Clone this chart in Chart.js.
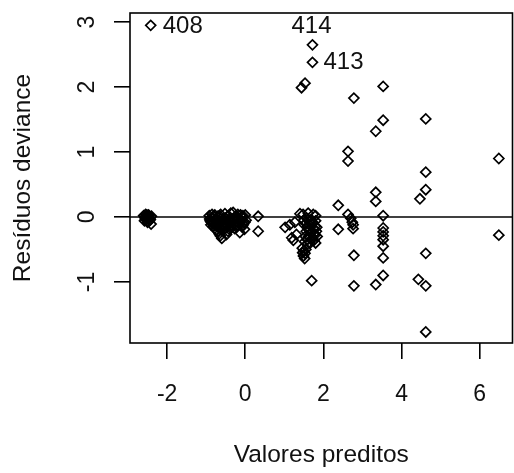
<!DOCTYPE html>
<html>
<head>
<meta charset="utf-8">
<script src="https://cdn.jsdelivr.net/npm/chart.js@4.4.1/dist/chart.umd.min.js"></script>
<style>
  html, body { margin: 0; padding: 0; background: #fff; }
  #wrap { width: 514px; height: 473px; }
</style>
</head>
<body>
<div id="wrap"><canvas id="chart" width="514" height="473"></canvas></div>
<script>
// valores preditos (x) e residuos deviance (y), lidos do grafico
// as tres primeiras observacoes sao as identificadas (408, 414, 413)
const preditos = [
  -2.42, 1.72, 1.72,
  -2.60, -2.56, -2.52, -2.49, -2.46, -2.43, -2.40, -2.58, -2.50, -2.44, -2.41,
  -2.57, -2.53, -2.48, -2.45, -2.55, -2.47,
  -0.92, -0.90, -0.88, -0.85, -0.83, -0.82, -0.80, -0.78, -0.76, -0.74,
  -0.72, -0.70, -0.68, -0.67, -0.65, -0.63, -0.61, -0.60, -0.58, -0.56,
  -0.54, -0.52, -0.50, -0.48, -0.47, -0.45, -0.43, -0.41, -0.39, -0.37,
  -0.35, -0.33, -0.31, -0.29, -0.27, -0.25, -0.23, -0.21, -0.19, -0.17,
  -0.15, -0.14, -0.12, -0.10, -0.08, -0.06, -0.04, -0.02, 0.00, 0.02,
  -0.91, -0.87, -0.84, -0.81, -0.77, -0.73, -0.69, -0.66, -0.62, -0.59,
  -0.55, -0.51, -0.46, -0.42, -0.38, -0.34, -0.30, -0.26, -0.22, -0.18,
  -0.13, -0.09, -0.05, -0.01, -0.71, -0.64, -0.57, -0.44,
  0.33, 0.33,
  1.02, 1.14, 1.27, 1.19, 1.31, 1.23, 1.40, 1.48, 1.61, 1.74, 1.80,
  1.50, 1.55, 1.60, 1.65, 1.70, 1.75, 1.80, 1.82, 1.78, 1.72, 1.68, 1.62,
  1.56, 1.52, 1.58, 1.66, 1.76, 1.80,
  1.51, 1.57, 1.63, 1.69, 1.74, 1.79, 1.84, 1.54, 1.64, 1.71, 1.77, 1.83, 1.59, 1.69,
  1.46, 1.50, 1.53, 1.49, 1.52, 1.47, 1.55,
  1.70, 1.44, 1.53,
  2.38, 2.38, 2.63, 2.63, 2.63, 2.70, 2.74, 2.76, 2.76, 2.78, 2.78, 2.78,
  3.34, 3.34, 3.34, 3.34, 3.53, 3.53, 3.53, 3.53, 3.53, 3.53, 3.53, 3.53, 3.53, 3.53,
  4.62, 4.62, 4.62, 4.47, 4.62, 4.43, 4.62, 4.62,
  6.49, 6.49
]
const residuos = [
  2.95, 2.65, 2.38,
  0.02, -0.03, 0.03, -0.01, 0.02, -0.04, 0.01, -0.06, -0.08, -0.03, -0.11,
  0.00, -0.01, 0.03, -0.06, 0.04, -0.02,
  0.02, -0.06, -0.12, 0.04, -0.02, -0.15, -0.09, 0.03, -0.05, -0.20,
  -0.11, 0.01, -0.16, -0.26, -0.07, 0.04, -0.13, -0.33, -0.21, -0.03,
  -0.10, 0.05, -0.17, -0.27, -0.06, -0.12, 0.02, -0.19, -0.08, 0.06,
  -0.14, -0.04, 0.07, -0.10, -0.18, 0.01, -0.07, -0.13, 0.04, -0.02,
  -0.11, -0.24, 0.03, -0.06, -0.15, 0.02, -0.09, -0.19, 0.03, -0.05,
  -0.03, -0.08, -0.10, 0.01, -0.13, -0.04, -0.09, 0.02, -0.18, -0.07,
  -0.14, -0.02, -0.11, -0.05, -0.15, -0.09, -0.03, -0.12, -0.16, -0.08,
  -0.05, 0.00, -0.12, -0.08, -0.22, -0.29, -0.12, -0.22,
  0.01, -0.22,
  -0.16, -0.12, -0.08, -0.32, -0.27, -0.36, 0.05, 0.04, 0.06, 0.04, 0.02,
  -0.05, -0.10, -0.15, -0.08, -0.12, -0.18, -0.06, -0.22, -0.28, -0.33, -0.25, -0.30,
  -0.22, -0.38, -0.42, -0.40, -0.36, -0.40,
  -0.12, -0.02, -0.20, -0.04, -0.09, -0.14, -0.30, -0.30, -0.12, -0.22, -0.26, -0.16, -0.35, -0.35,
  -0.48, -0.52, -0.56, -0.60, -0.64, -0.55, -0.50,
  -0.98, 1.99, 2.06,
  0.18, -0.19, 1.01, 0.86, 0.04, -0.02, -0.08, -0.12, -0.18, 1.83, -0.59, -1.06,
  1.32, 0.38, 0.24, -1.04, 2.01, 1.49, 0.02, -0.17, -0.23, -0.29, -0.35, -0.45, -0.63, -0.90,
  1.51, 0.69, 0.42, 0.28, -0.56, -0.96, -1.06, -1.77,
  0.90, -0.28
]
const rotulos = ["408", "414", "413"]
const xTicks = [-2, 0, 2, 4, 6]
const yTicks = [-1, 0, 1, 2, 3]
const xTitulo = "Valores preditos"
const yTitulo = "Resíduos deviance"

const FONT = '"Liberation Sans", Arial, sans-serif'
const INK = "#111"

const pontos = preditos.map((x, i) => ({ x: x, y: residuos[i] }))

const rPlotPlugin = {
  id: "rPlot",
  beforeDatasetsDraw(chart) {
    const { ctx, chartArea, scales } = chart
    const y0 = scales.y.getPixelForValue(0)
    ctx.save()
    ctx.strokeStyle = "#000"
    ctx.lineWidth = 1.6
    ctx.beginPath()
    ctx.moveTo(chartArea.left, y0)
    ctx.lineTo(chartArea.right, y0)
    ctx.stroke()
    ctx.restore()
  },
  afterDraw(chart) {
    const { ctx, chartArea, scales } = chart
    ctx.save()
    // caixa do grafico
    ctx.strokeStyle = "#000"
    ctx.lineWidth = 1.6
    ctx.strokeRect(chartArea.left, chartArea.top, chartArea.right - chartArea.left, chartArea.bottom - chartArea.top)

    ctx.fillStyle = INK
    ctx.font = "23px " + FONT
    ctx.textAlign = "center"
    ctx.textBaseline = "middle"
    xTicks.forEach((v) => {
      ctx.fillText(v < 0 ? "-" + Math.abs(v) : String(v), scales.x.getPixelForValue(v), 395)
    })
    yTicks.forEach((v) => {
      ctx.save()
      ctx.translate(88, scales.y.getPixelForValue(v))
      ctx.rotate(-Math.PI / 2)
      ctx.fillText(v < 0 ? "-" + Math.abs(v) : String(v), 0, 0)
      ctx.restore()
    })

    // titulos
    ctx.font = "24.5px " + FONT
    const cx = (chartArea.left + chartArea.right) / 2
    const cy = (chartArea.top + chartArea.bottom) / 2
    ctx.fillText(xTitulo, cx, 455)
    ctx.save()
    ctx.translate(23, cy)
    ctx.rotate(-Math.PI / 2)
    ctx.fillText(yTitulo, 0, 0)
    ctx.restore()

    // observacoes identificadas
    const meta = chart.getDatasetMeta(0)
    ctx.font = "24px " + FONT
    const p408 = meta.data[0]
    ctx.textAlign = "left"
    ctx.fillText(rotulos[0], p408.x + 12, p408.y + 1)
    const p414 = meta.data[1]
    ctx.textAlign = "center"
    ctx.fillText(rotulos[1], p414.x - 1, p414.y - 18)
    const p413 = meta.data[2]
    ctx.textAlign = "left"
    ctx.fillText(rotulos[2], p413.x + 11, p413.y)
    ctx.restore()
  },
}

const axisGrid = {
  display: true,
  drawOnChartArea: false,
  drawTicks: true,
  tickLength: 16,
  color: "#000",
  lineWidth: 1.6,
}

const zeroPadding = (s) => {
  s.paddingLeft = 0
  s.paddingRight = 0
  s.paddingTop = 0
  s.paddingBottom = 0
}

new Chart(document.getElementById("chart"), {
  type: "scatter",
  data: {
    datasets: [
      {
        data: pontos,
        pointStyle: "rectRot",
        pointRadius: 5,
        pointBorderWidth: 1.7,
        borderColor: "#000",
        backgroundColor: "rgba(0,0,0,0)",
      },
    ],
  },
  options: {
    responsive: false,
    animation: false,
    events: [],
    layout: { autoPadding: false, padding: { top: 13, right: 1.5, left: 0, bottom: 0 } },
    plugins: {
      legend: { display: false },
      tooltip: { enabled: false },
    },
    scales: {
      x: {
        type: "linear",
        min: -2.95,
        max: 6.84,
        afterBuildTicks: (s) => { s.ticks = xTicks.map((v) => ({ value: v })) },
        afterFit: (s) => { s.height = 130; zeroPadding(s) },
        grid: axisGrid,
        border: { display: false },
        ticks: { display: false },
      },
      y: {
        type: "linear",
        min: -1.94,
        max: 3.14,
        afterBuildTicks: (s) => { s.ticks = yTicks.map((v) => ({ value: v })) },
        afterFit: (s) => { s.width = 130; zeroPadding(s) },
        grid: axisGrid,
        border: { display: false },
        ticks: { display: false },
      },
    },
  },
  plugins: [rPlotPlugin],
})
</script>
</body>
</html>
